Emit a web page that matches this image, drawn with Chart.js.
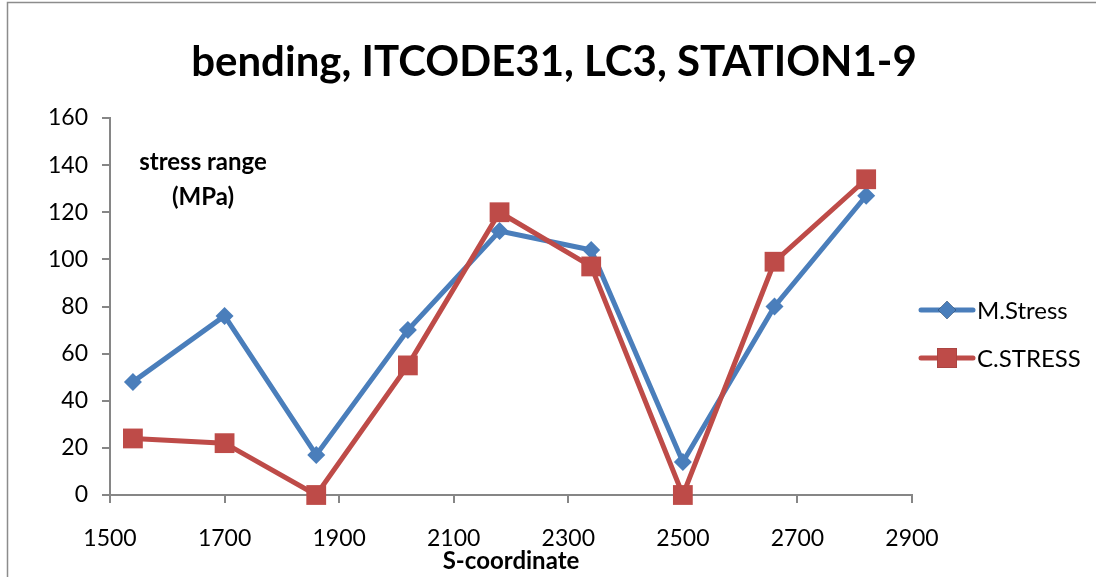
<!DOCTYPE html>
<html>
<head>
<meta charset="utf-8">
<script src="https://cdn.jsdelivr.net/npm/chart.js@4/dist/chart.umd.min.js"></script>
<style>
  html, body { margin: 0; padding: 0; background: #ffffff; }
  #wrap { width: 1096px; height: 577px; position: relative; }
</style>
</head>
<body>
<div id="wrap"><canvas id="c" width="1096" height="577"></canvas></div>
<script>
// S-coordinate of each station
const sCoord = [1540, 1700, 1860, 2020, 2180, 2340, 2500, 2660, 2820];
// measured and calculated stress range (MPa)
const mStress = [48, 76, 17, 70, 112, 104, 14, 80, 127];
const cStress = [24, 22, 0, 55, 120, 97, 0, 99, 134];
const seriesNames = ['M.Stress', 'C.STRESS'];
const titleText = 'bending, ITCODE31, LC3, STATION1-9';
const yLabelLines = ['stress range', '(MPa)'];
const xTitle = 'S-coordinate';

const FONT = 'Lato, "Open Sans", sans-serif';
const BLUE = '#4A7EBB';
const RED = '#BE4B48';
const AXIS = '#868686';

const pts = (ys) => sCoord.map((x, i) => ({ x: x, y: ys[i] }));

const decor = {
  id: 'decor',
  afterDraw(chart) {
    const ctx = chart.ctx;
    const area = chart.chartArea;
    ctx.save();
    // outer frame
    ctx.strokeStyle = '#8c8c8c';
    ctx.lineWidth = 1.5;
    ctx.strokeRect(7.5, 2.5, 1200, 700);
    // title
    ctx.fillStyle = '#000';
    ctx.textAlign = 'center';
    ctx.textBaseline = 'middle';
    ctx.font = 'bold 42px ' + FONT;
    ctx.fillText(titleText, 554, 62);
    // quantity label inside the plot
    ctx.font = 'bold 24px ' + FONT;
    ctx.fillText(yLabelLines[0], 203, 162);
    ctx.fillText(yLabelLines[1], 203, 197);
    // x axis title
    ctx.fillText(xTitle, (area.left + area.right) / 2, 561);
    // legend
    const ds = chart.data.datasets;
    const rows = [310, 358];
    ctx.textAlign = 'left';
    ctx.font = '24px ' + FONT;
    ds.forEach((d, i) => {
      const y = rows[i];
      ctx.strokeStyle = d.borderColor;
      ctx.lineWidth = 5;
      ctx.lineCap = 'round';
      ctx.beginPath();
      ctx.moveTo(921, y);
      ctx.lineTo(973, y);
      ctx.stroke();
      Chart.helpers.drawPoint(ctx, {
        pointStyle: d.pointStyle,
        radius: d.pointRadius,
        borderWidth: 0
      }, 947, y);
      ctx.fillStyle = d.borderColor;
      ctx.fill();
      ctx.fillStyle = '#000';
      ctx.fillText(d.label, 977, y + 1);
    });
    ctx.restore();
  }
};

const tickFont = { family: FONT, size: 23 };

new Chart(document.getElementById('c'), {
  type: 'line',
  data: {
    datasets: [
      {
        label: seriesNames[0],
        data: pts(mStress),
        borderColor: BLUE,
        backgroundColor: BLUE,
        borderWidth: 5,
        pointStyle: 'rectRot',
        pointRadius: 9,
        pointBorderWidth: 0,
        order: 1,
        clip: false
      },
      {
        label: seriesNames[1],
        data: pts(cStress),
        borderColor: RED,
        backgroundColor: RED,
        borderWidth: 5,
        pointStyle: 'rect',
        pointRadius: 14,
        pointBorderWidth: 0,
        order: 0,
        clip: false
      }
    ]
  },
  options: {
    responsive: false,
    animation: false,
    events: [],
    layout: { padding: { top: 118, right: 184, bottom: 0, left: 0 } },
    plugins: {
      legend: { display: false },
      title: { display: false },
      tooltip: { enabled: false }
    },
    scales: {
      x: {
        type: 'linear',
        min: 1500,
        max: 2900,
        afterFit(s) { s.height = 82; },
        ticks: {
          stepSize: 200,
          color: '#000',
          font: tickFont,
          padding: 22,
          callback: (v) => String(v)
        },
        grid: {
          drawOnChartArea: false,
          drawTicks: true,
          tickLength: 8,
          color: AXIS,
          lineWidth: 2
        },
        border: { color: AXIS, width: 2 }
      },
      y: {
        min: 0,
        max: 160,
        afterFit(s) { s.width = 110; },
        ticks: {
          stepSize: 20,
          color: '#000',
          font: tickFont,
          padding: 14,
          callback: (v) => String(v)
        },
        grid: {
          drawOnChartArea: false,
          drawTicks: true,
          tickLength: 8,
          color: AXIS,
          lineWidth: 2
        },
        border: { color: AXIS, width: 2 }
      }
    }
  },
  plugins: [decor]
});
</script>
</body>
</html>
